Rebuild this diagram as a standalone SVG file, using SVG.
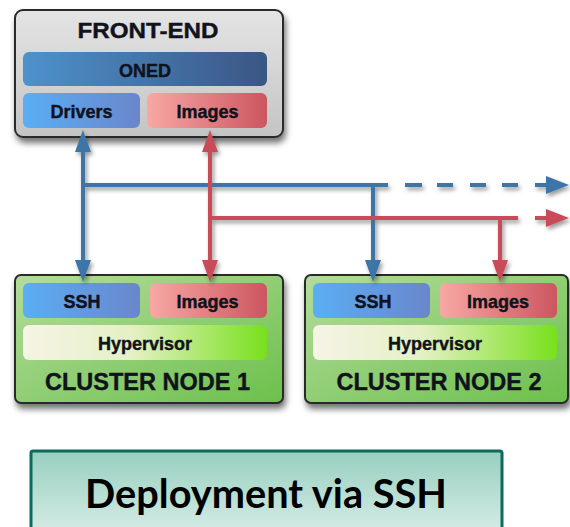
<svg xmlns="http://www.w3.org/2000/svg" width="570" height="527" viewBox="0 0 570 527">
<defs>
<linearGradient id="gFront" x1="0" y1="0" x2="0" y2="1"><stop offset="0" stop-color="#e4e4e4"/><stop offset="1" stop-color="#c4c4c4"/></linearGradient>
<linearGradient id="gOned" x1="0" y1="0" x2="1" y2="0"><stop offset="0" stop-color="#4d92cc"/><stop offset="1" stop-color="#3b5684"/></linearGradient>
<linearGradient id="gBlue" x1="0" y1="0" x2="1" y2="0"><stop offset="0" stop-color="#5aaef4"/><stop offset="1" stop-color="#6a86cc"/></linearGradient>
<linearGradient id="gRed" x1="0" y1="0" x2="1" y2="0"><stop offset="0" stop-color="#f8a8a4"/><stop offset="1" stop-color="#cc5660"/></linearGradient>
<linearGradient id="gGreen" x1="0" y1="0" x2="1" y2="1"><stop offset="0" stop-color="#b4dc9c"/><stop offset="1" stop-color="#6cc04c"/></linearGradient>
<linearGradient id="gHyp" x1="0" y1="0" x2="1" y2="0"><stop offset="0" stop-color="#f6f4e6"/><stop offset="0.45" stop-color="#e4f0c4"/><stop offset="1" stop-color="#78e01c"/></linearGradient>
<linearGradient id="gTeal" x1="0" y1="0" x2="0" y2="1"><stop offset="0" stop-color="#97cfc0"/><stop offset="1" stop-color="#dcefe9"/></linearGradient>
<filter id="shadow" x="-10%" y="-10%" width="130%" height="140%"><feDropShadow dx="2" dy="5" stdDeviation="3" flood-color="#000" flood-opacity="0.55"/></filter>
<filter id="lshadow" x="-10%" y="-20%" width="130%" height="160%"><feDropShadow dx="2" dy="3" stdDeviation="2" flood-color="#000" flood-opacity="0.4"/></filter>
</defs>
<style>
.box{stroke:#2b2b2b;stroke-width:2}
.bar{stroke:none}
.t{font-family:"Liberation Sans",Arial,sans-serif;font-weight:bold;fill:#10121c;stroke:#10121c;stroke-width:0.4;text-anchor:middle}
.s18{font-size:18px}
.big{font-size:23.5px}
.blue{stroke:#3d74a8;stroke-width:4;fill:none}
.red{stroke:#c94b5a;stroke-width:4;fill:none}
.hb{fill:#3d74a8}
.hr{fill:#c94b5a}
</style>

<g id="front-end">
<rect class="box" x="15" y="10" width="268" height="127" rx="8" fill="url(#gFront)" filter="url(#shadow)"/>
<text class="t" x="148" y="38" font-size="22" textLength="141" lengthAdjust="spacingAndGlyphs">FRONT-END</text>
<rect class="bar" x="23" y="52" width="244" height="34" rx="6" fill="url(#gOned)"/>
<text class="t s18" x="145" y="77">ONED</text>
<rect class="bar" x="23" y="93" width="117" height="35" rx="6" fill="url(#gBlue)"/>
<text class="t s18" x="81.5" y="118">Drivers</text>
<rect class="bar" x="147" y="93" width="120" height="35" rx="6" fill="url(#gRed)"/>
<text class="t s18" x="207.5" y="118">Images</text>
</g>

<g id="cluster-node-1">
<rect class="box" x="15" y="275" width="268" height="128" rx="6" fill="url(#gGreen)" filter="url(#shadow)"/>
<rect class="bar" x="23" y="283" width="117" height="35" rx="6" fill="url(#gBlue)"/>
<text class="t s18" x="82" y="308">SSH</text>
<rect class="bar" x="150" y="283" width="117" height="35" rx="6" fill="url(#gRed)"/>
<text class="t s18" x="207.5" y="308">Images</text>
<rect class="bar" x="23" y="325" width="244" height="35" rx="6" fill="url(#gHyp)"/>
<text class="t s18" x="145" y="350">Hypervisor</text>
<text class="t big" x="147.5" y="390">CLUSTER NODE 1</text>
</g>

<g id="cluster-node-2">
<rect class="box" x="305" y="275" width="263" height="128" rx="6" fill="url(#gGreen)" filter="url(#shadow)"/>
<rect class="bar" x="313" y="283" width="117" height="35" rx="6" fill="url(#gBlue)"/>
<text class="t s18" x="373" y="308">SSH</text>
<rect class="bar" x="440" y="283" width="117" height="35" rx="6" fill="url(#gRed)"/>
<text class="t s18" x="498" y="308">Images</text>
<rect class="bar" x="313" y="325" width="244" height="35" rx="6" fill="url(#gHyp)"/>
<text class="t s18" x="435" y="350">Hypervisor</text>
<text class="t big" x="439" y="390">CLUSTER NODE 2</text>
</g>

<g id="connectors" filter="url(#lshadow)">
<path class="blue" d="M83,150 V262"/>
<path class="blue" d="M83,185 H388"/>
<path class="blue" d="M373,185 V262"/>
<path class="blue" d="M405,185 H422 M437,185 H453 M470,185 H486 M502,185 H518 M535,185 H550"/>
<path class="red" d="M210,150 V262"/>
<path class="red" d="M210,218 H518"/>
<path class="red" d="M500,218 V262"/>
<path class="red" d="M535,218 H550"/>
<path class="hb" d="M83,130 L91,152 L75,152 z"/>
<path class="hr" d="M210,130 L218,152 L202,152 z"/>
<path class="hb" d="M83,282 L91,260 L75,260 z"/>
<path class="hr" d="M210,282 L218,260 L202,260 z"/>
<path class="hb" d="M373,282 L381,260 L365,260 z"/>
<path class="hr" d="M500,282 L508,260 L492,260 z"/>
<path class="hb" d="M569,185 L546,176 L546,194 z"/>
<path class="hr" d="M569,218 L546,209 L546,227 z"/>
</g>

<g id="caption">
<rect x="31" y="451" width="471" height="90" rx="2" fill="url(#gTeal)" stroke="#0b6b5a" stroke-width="3"/>
<text x="266" y="508" font-family="Lato,'Open Sans',sans-serif" font-weight="bold" font-size="40" fill="#000" text-anchor="middle" textLength="362" lengthAdjust="spacingAndGlyphs">Deployment via SSH</text>
</g>
</svg>
